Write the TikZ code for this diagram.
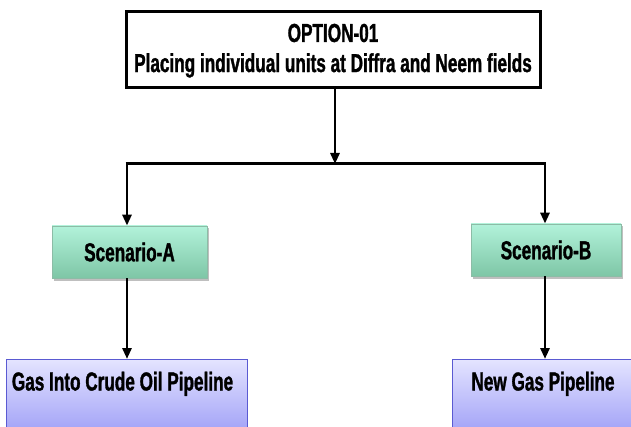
\documentclass[tikz,border=0pt]{standalone}
\usepackage{fontspec}
\setmainfont[FakeStretch=0.66,BoldFeatures={FakeBold=1.2}]{Liberation Sans}
\usetikzlibrary{arrows.meta,shadows,calc}
\definecolor{scTop}{HTML}{B2F2DA}
\definecolor{scBot}{HTML}{7EC6A6}
\definecolor{scEdge}{HTML}{8CBCA6}
\definecolor{pbTop}{HTML}{E4E4FF}
\definecolor{pbBot}{HTML}{9C9CF6}
\definecolor{pbEdge}{HTML}{5A5AD2}
\tikzset{
  x=1pt,y=1pt,
  arr/.style={line width=2.8pt,-{Triangle[length=11pt,width=9pt]}},
  link/.style={line width=3pt},
  optbox/.style={draw=black,line width=3pt,fill=white,minimum width=414pt,minimum height=76pt,inner sep=0pt},
  scbox/.style={draw=scEdge,line width=0.8pt,top color=scTop,bottom color=scBot,minimum height=52pt,inner sep=0pt,
    drop shadow={shadow xshift=1.5pt,shadow yshift=-2.5pt,opacity=0.25,fill=black}},
  pbox/.style={draw=pbEdge,line width=1pt,top color=pbTop,bottom color=pbBot,anchor=north,inner xsep=0pt,inner ysep=0pt,
    text height=31pt,text depth=48pt},
  lbl/.style={font=\bfseries\fontsize{26}{32}\selectfont}
}
\begin{document}
\begin{tikzpicture}
\useasboundingbox (0,0) rectangle (631,426);
\clip (0,0) rectangle (631,426);
\fill[white] (0,0) rectangle (631,426);
% nodes
\node[optbox,lbl] (opt) at (333,376) {\renewcommand{\arraystretch}{0.94}\raisebox{-1pt}[\height][\depth]{\begin{tabular}{@{}c@{}}OPTION-01\\Placing individual units at Diffra and Neem fields\end{tabular}}};
\node[scbox,lbl,minimum width=155pt] (scA) at (129.5,174) {Scenario-A};
\node[scbox,lbl,minimum width=150pt] (scB) at (546,176) {Scenario-B};
\node[pbox,lbl,minimum width=241pt] (gasA) at (126.5,67) {\hspace*{-8pt}Gas Into Crude Oil Pipeline};
\node[pbox,lbl,minimum width=190pt] (gasB) at (547,67) {\hspace*{-8pt}New Gas Pipeline};
% connectors
\coordinate (hl) at (127,262);
\coordinate (hr) at (545,262);
\coordinate (hm) at (335,262);
\draw[link] ([xshift=-1.4pt]hl) -- ([xshift=1.4pt]hr);
\draw[arr] ([xshift=2pt]opt.south) -- (hm);
\draw[arr] (hl) -- (hl |- scA.north);
\draw[arr] (hr) -- (hr |- scB.north);
\draw[arr] (scA.south -| hl) -- (hl |- gasA.north);
\draw[arr] (scB.south -| hr) -- (hr |- gasB.north);
\end{tikzpicture}
\end{document}
